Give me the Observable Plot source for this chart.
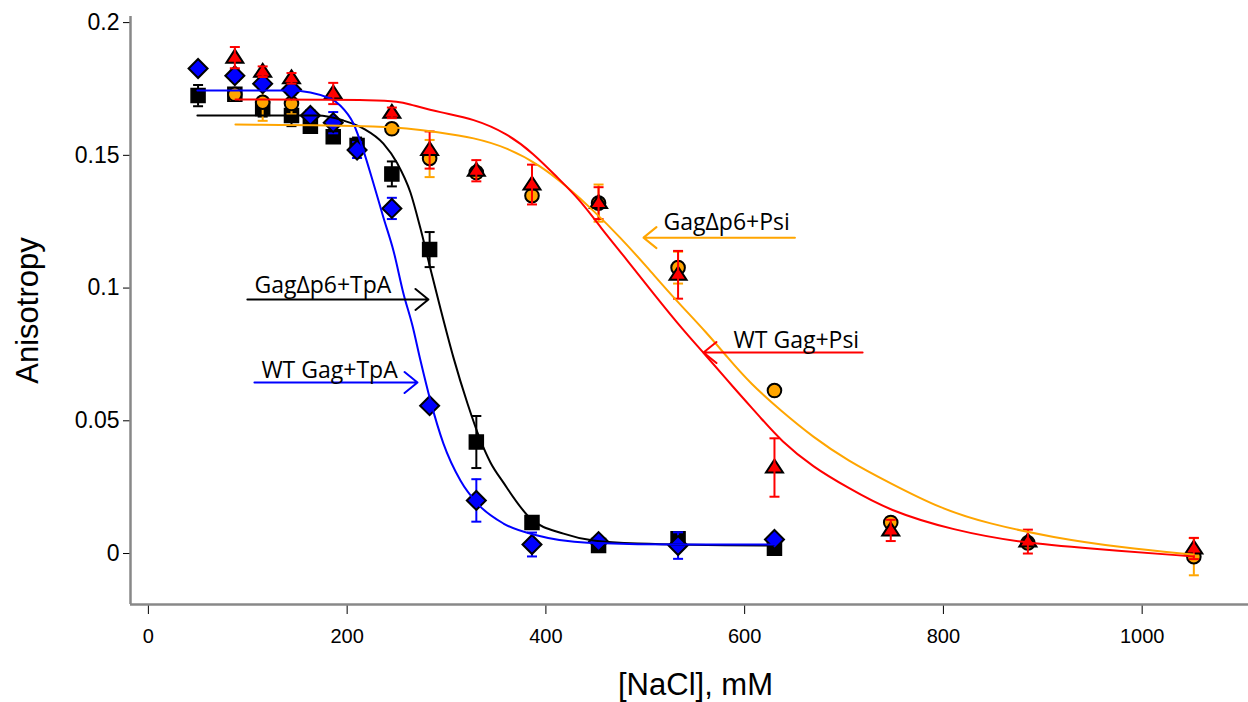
<!DOCTYPE html>
<html><head><meta charset="utf-8">
<script src="https://cdn.jsdelivr.net/npm/d3@7"></script>
<script src="https://cdn.jsdelivr.net/npm/@observablehq/plot@0.6"></script>
<style>html,body{margin:0;padding:0;background:#fff;}</style>
</head><body><div id="chart"></div>
<script>
// ---- axes ----
const xDomain = [-18, 1107];
const yDomain = [-0.0192, 0.2023];
const xTicks = [0, 200, 400, 600, 800, 1000];
const yTicks = [0, 0.05, 0.1, 0.15, 0.2];
const xTitle = "[NaCl], mM";
const yTitle = "Anisotropy";

// ---- GagΔp6+TpA (black squares) ----
const dp6TpaX = [50, 87, 115, 144, 163, 186, 210, 245, 283, 330, 386, 453, 533, 630];
const dp6TpaY = [0.1725, 0.173, 0.1676, 0.165, 0.161, 0.157, 0.1537, 0.143, 0.1145, 0.042, 0.0117, 0.003, 0.0056, 0.002];
const dp6TpaE = [0.004, 0.002, 0.003, 0.004, 0.002, 0.002, 0.003, 0.0047, 0.0066, 0.0098, 0.001, 0.001, 0.002, 0.001];

// ---- WT Gag+TpA (blue diamonds) ----
const wtTpaX = [50, 87, 115, 144, 163, 186, 210, 245, 283, 330, 386, 453, 533, 630];
const wtTpaY = [0.1827, 0.180, 0.177, 0.1748, 0.165, 0.1623, 0.152, 0.130, 0.0557, 0.020, 0.0034, 0.0045, 0.003, 0.0053];
const wtTpaE = [0.001, 0.002, 0.002, 0.002, 0.002, 0.004, 0.003, 0.004, 0.001, 0.008, 0.0045, 0.001, 0.005, 0.001];

// ---- GagΔp6+Psi (orange circles) ----
const dp6PsiX = [87, 115, 144, 245, 283, 330, 386, 453, 533, 630, 747, 885, 1052];
const dp6PsiY = [0.173, 0.170, 0.1695, 0.160, 0.1488, 0.1435, 0.1348, 0.132, 0.1077, 0.0614, 0.0117, 0.004, -0.0012];
const dp6PsiE = [0.002, 0.007, 0.004, 0.002, 0.007, 0.002, 0.002, 0.007, 0.006, 0.001, 0.002, 0.002, 0.007];

// ---- WT Gag+Psi (red triangles) ----
const wtPsiX = [87, 115, 144, 186, 245, 283, 330, 386, 453, 533, 630, 747, 885, 1052];
const wtPsiY = [0.1868, 0.1815, 0.179, 0.1733, 0.166, 0.152, 0.1442, 0.139, 0.132, 0.105, 0.0324, 0.0087, 0.0045, 0.0019];
const wtPsiE = [0.004, 0.002, 0.002, 0.004, 0.002, 0.007, 0.004, 0.0075, 0.006, 0.009, 0.011, 0.004, 0.0045, 0.004];

// ---- fitted curves ----
const fitDp6TpaX = [49.3, 170.1, 196.3, 216.4, 236.5, 250.6, 263.7, 273.8, 283.8, 293.9, 307.0, 321.1, 334.2, 344.2, 357.3, 384.5, 417.7, 447.9, 492.2, 629.1];
const fitDp6TpaY = [0.1650, 0.1650, 0.1631, 0.1601, 0.1544, 0.1469, 0.1360, 0.1224, 0.1073, 0.0923, 0.0738, 0.0565, 0.0426, 0.0343, 0.0267, 0.0132, 0.0075, 0.0049, 0.0038, 0.0030];
const fitWtTpaX = [49.3, 142.9, 183.2, 193.3, 206.3, 216.4, 226.5, 236.5, 246.6, 256.7, 265.7, 273.8, 283.8, 296.9, 314.0, 331.1, 357.3, 391.5, 441.9, 542.5, 630.1];
const fitWtTpaY = [0.1744, 0.1744, 0.1714, 0.1687, 0.1620, 0.1518, 0.1394, 0.1266, 0.1141, 0.0979, 0.0859, 0.0727, 0.0576, 0.0414, 0.0275, 0.0188, 0.0113, 0.0068, 0.0041, 0.0034, 0.0034];
const fitDp6PsiX = [87.6, 243.6, 293.9, 327.1, 361.3, 394.6, 421.7, 447.9, 475.1, 502.3, 528.4, 562.6, 582.8, 605.9, 636.1, 669.3, 703.6, 746.9, 797.2, 844.5, 910.9, 978.4, 1051.8];
const fitDp6PsiY = [0.1616, 0.1612, 0.1586, 0.1567, 0.1529, 0.1462, 0.1381, 0.1292, 0.1190, 0.1077, 0.0964, 0.0829, 0.0738, 0.0640, 0.0539, 0.0437, 0.0350, 0.0264, 0.0169, 0.0113, 0.0060, 0.0023, -0.0004];
const fitWtPsiX = [87.6, 243.6, 260.7, 293.9, 327.1, 361.3, 387.5, 411.7, 434.8, 455.0, 482.1, 508.3, 538.5, 558.6, 588.8, 616.0, 636.1, 669.3, 703.6, 744.8, 810.3, 877.7, 945.1, 1051.8];
const fitWtPsiY = [0.1710, 0.1710, 0.1695, 0.1661, 0.1638, 0.1582, 0.1507, 0.1416, 0.1330, 0.1228, 0.1104, 0.0979, 0.0840, 0.0757, 0.0625, 0.0512, 0.0426, 0.0324, 0.0249, 0.0162, 0.0087, 0.0041, 0.0019, -0.0011];

// ---- annotations ----
const annoLabels = ["GagΔp6+TpA", "WT Gag+TpA", "GagΔp6+Psi", "WT Gag+Psi"];
const annoTextX = [106.7, 113.7, 518.4, 588.8];
const annoTextY = [0.0983, 0.0663, 0.1220, 0.0776];
const arrowFromX = [99.6, 106.7, 650.6, 718.7];
const arrowToX = [281.8, 270.8, 498.2, 558.6];
const arrowY = [0.0957, 0.0644, 0.1190, 0.0757];
const annoColors = ["black", "#0000ff", "#ffa500", "#ff0000"];

// ---- build tables ----
const pts = (xs, ys, es) => xs.map((x, i) => ({x, y: ys[i], lo: ys[i] - es[i], hi: ys[i] + es[i]}));
const curve = (xs, ys) => xs.map((x, i) => ({x, y: ys[i]}));
const sq = pts(dp6TpaX, dp6TpaY, dp6TpaE);
const di = pts(wtTpaX, wtTpaY, wtTpaE);
const ci = pts(dp6PsiX, dp6PsiY, dp6PsiE);
const tr = pts(wtPsiX, wtPsiY, wtPsiE);
const annos = annoLabels.map((t, i) => ({t, tx: annoTextX[i], ty: annoTextY[i], x1: arrowFromX[i], x2: arrowToX[i], y: arrowY[i], c: annoColors[i]}));

// ---- symbols ----
const symSquare = {draw(c) { c.rect(-7, -7, 14, 14); }};
const symDiamond = {draw(c) { c.moveTo(0, -9.5); c.lineTo(9.5, 0); c.lineTo(0, 9.5); c.lineTo(-9.5, 0); c.closePath(); }};
const symTriangle = {draw(c) { c.moveTo(0, -8); c.lineTo(8.5, 5); c.lineTo(-8.5, 5); c.closePath(); }};
const symCap = {draw(c) { c.moveTo(-5, 0); c.lineTo(5, 0); }};

function errMarks(data, color) {
  return [
    Plot.ruleX(data, {x: "x", y1: "lo", y2: "hi", stroke: color, strokeWidth: 2}),
    Plot.dot(data, {x: "x", y: "lo", symbol: symCap, fill: "none", stroke: color, strokeWidth: 2}),
    Plot.dot(data, {x: "x", y: "hi", symbol: symCap, fill: "none", stroke: color, strokeWidth: 2})
  ];
}

const chart = Plot.plot({
  width: 1248, height: 702,
  marginLeft: 130, marginRight: 0, marginTop: 16, marginBottom: 98,
  style: {fontFamily: "'Liberation Sans', Arial, sans-serif", fontSize: "21px", background: "white", color: "black", overflow: "visible"},
  x: {domain: xDomain, ticks: xTicks, tickFormat: d => String(d), tickSize: 10, tickPadding: 14, label: null},
  y: {domain: yDomain, ticks: yTicks, tickFormat: d => String(d), tickSize: 7, tickPadding: 4, label: null},
  marks: [
    Plot.ruleX([xDomain[0]], {x: d => d, stroke: "#888", strokeWidth: 2.5}),
    Plot.ruleY([yDomain[0]], {y: d => d, stroke: "#888", strokeWidth: 2.5}),
    ...errMarks(sq, "black"),
    Plot.dot(sq, {x: "x", y: "y", symbol: symSquare, fill: "black", stroke: "black", strokeWidth: 1.5}),
    ...errMarks(ci, "#ffa500"),
    Plot.dot(ci, {x: "x", y: "y", symbol: "circle", r: 6.8, fill: "#ffa500", stroke: "black", strokeWidth: 2}),
    ...errMarks(di, "#0000ff"),
    Plot.dot(di, {x: "x", y: "y", symbol: symDiamond, fill: "#0000ff", stroke: "black", strokeWidth: 2}),
    Plot.dot(tr, {x: "x", y: "y", symbol: symTriangle, fill: "#ff0000", stroke: "black", strokeWidth: 2}),
    ...errMarks(tr, "#ff0000"),
    Plot.line(curve(fitDp6TpaX, fitDp6TpaY), {x: "x", y: "y", stroke: "black", strokeWidth: 2, curve: "monotone-x"}),
    Plot.line(curve(fitWtTpaX, fitWtTpaY), {x: "x", y: "y", stroke: "#0000ff", strokeWidth: 2, curve: "monotone-x"}),
    Plot.line(curve(fitDp6PsiX, fitDp6PsiY), {x: "x", y: "y", stroke: "#ffa500", strokeWidth: 2, curve: "basis"}),
    Plot.line(curve(fitWtPsiX, fitWtPsiY), {x: "x", y: "y", stroke: "#ff0000", strokeWidth: 2, curve: "basis"}),
    Plot.arrow(annos, {x1: "x1", x2: "x2", y1: "y", y2: "y", stroke: "c", strokeWidth: 2, headLength: 12.5, headAngle: 78}),
    Plot.text(annos, {x: "tx", y: "ty", text: "t", textAnchor: "start", lineAnchor: "bottom", fontSize: 23, fontFamily: "'Open Sans', sans-serif", fill: "black"}),
    Plot.text([xTitle], {text: d => d, frameAnchor: "bottom", textAnchor: "middle", lineAnchor: "middle", dy: 81, dx: 6, fontSize: 31}),
    Plot.text([yTitle], {text: d => d, frameAnchor: "left", textAnchor: "middle", lineAnchor: "middle", rotate: -90, dx: -102, fontSize: 31})
  ]
});
d3.select(chart).selectAll('g[aria-label^="x-axis"] text').attr("font-size", 20);
d3.select(chart).selectAll('g[aria-label^="y-axis"] text').attr("font-size", 23);
document.getElementById("chart").appendChild(chart);
</script>
</body></html>
